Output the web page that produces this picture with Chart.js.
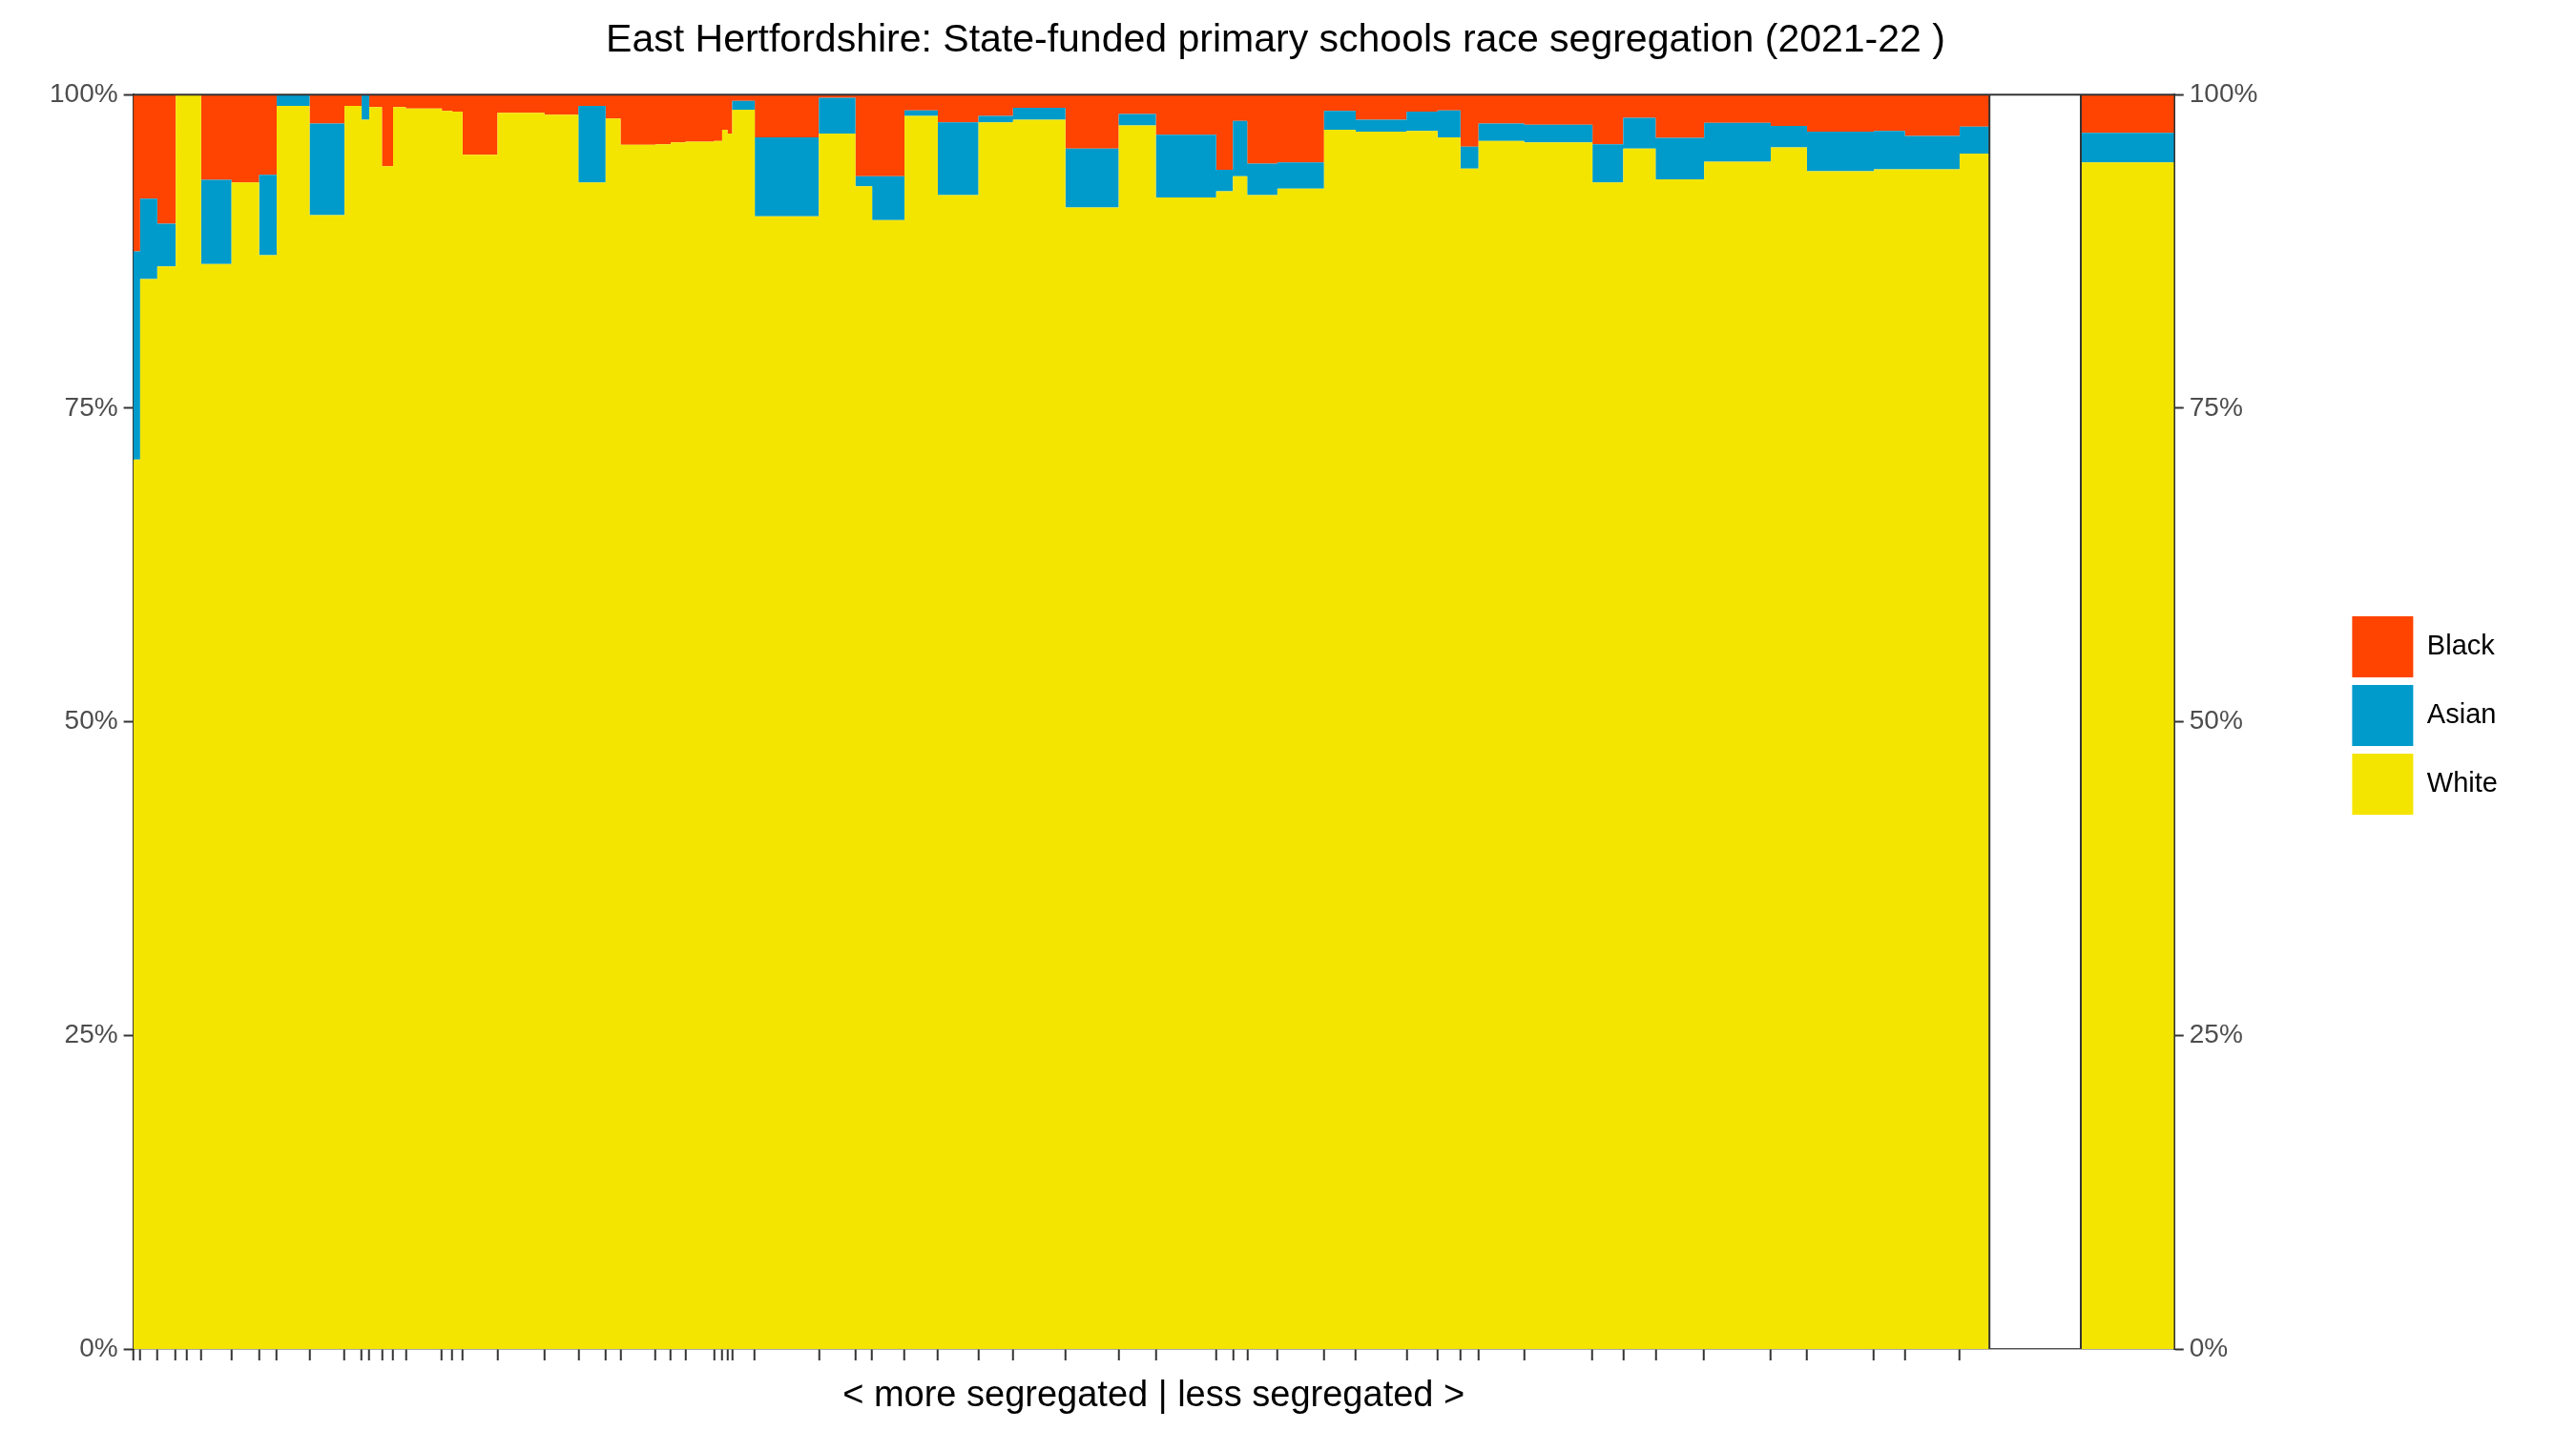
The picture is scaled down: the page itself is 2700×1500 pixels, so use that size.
<!DOCTYPE html>
<html>
<head>
<meta charset="utf-8">
<script src="https://cdn.jsdelivr.net/npm/chart.js@4"></script>
<style>
  html, body { margin: 0; padding: 0; background: #fff; }
  #wrap { width: 2700px; height: 1500px; }
</style>
</head>
<body>
<div id="wrap"><canvas id="myChart"></canvas></div>
<script>
// school widths (pupil share, ordered from more to less segregated)
let widths = [7.3, 18, 19.4, 11.6, 15, 32, 29, 18.4, 34.6, 36.7, 18, 8, 13.3, 11.7, 13.3, 38, 11, 10.7, 36.7, 49.3,
  35.7, 28.6, 15.7, 36.7, 16, 15.6, 30, 8.4, 5.6, 5, 23.7, 67.3, 38.4, 17.6, 34, 35, 42.7, 36.3, 55, 56,
  39, 63.4, 17.6, 15, 31.7, 49, 33.3, 53.4, 32.6, 24, 19, 48, 71.7, 32.3, 34, 51, 70, 38, 70.4, 32.6,
  57.4, 31.3];
let white = [70.9, 85.3, 86.3, 100, 100, 86.5, 93, 87.2, 99.1, 90.4, 99.1, 98, 99, 94.3, 99, 98.9, 98.7, 98.65, 95.2, 98.55,
  98.4, 93, 98.1, 96, 96.05, 96.2, 96.25, 96.3, 97.2, 96.9, 98.8, 90.3, 96.9, 92.7, 90, 98.3, 92, 97.8, 98, 91,
  97.55, 91.8, 92.3, 93.5, 92, 92.5, 97.2, 97.05, 97.1, 96.6, 94.1, 96.3, 96.2, 93, 95.7, 93.25, 94.65, 95.8, 93.9, 94.05,
  94.05, 95.3];
let asian = [16.6, 6.4, 3.4, 0, 0, 6.7, 0, 6.4, 0.9, 7.3, 0, 2, 0, 0, 0, 0, 0, 0, 0, 0,
  0, 6.1, 0, 0, 0, 0, 0, 0, 0, 0, 0.7, 6.3, 2.85, 0.8, 3.5, 0.45, 5.8, 0.5, 0.95, 4.7,
  0.9, 5, 1.7, 4.4, 2.5, 2.1, 1.5, 0.95, 1.55, 2.15, 1.75, 1.4, 1.4, 3.05, 2.45, 3.3, 3.1, 1.7, 3.15, 3.05,
  2.65, 2.15];
let black = [12.5, 8.3, 10.3, 0, 0, 6.8, 7, 6.4, 0, 2.3, 0.9, 0, 1, 5.7, 1, 1.1, 1.3, 1.35, 4.8, 1.45,
  1.6, 0.9, 1.9, 4, 3.95, 3.8, 3.75, 3.7, 2.8, 3.1, 0.5, 3.4, 0.25, 6.5, 6.5, 1.25, 2.2, 1.7, 1.05, 4.3,
  1.55, 3.2, 6, 2.1, 5.5, 5.4, 1.3, 2, 1.35, 1.25, 4.15, 2.3, 2.4, 3.95, 1.85, 3.45, 2.25, 2.5, 2.95, 2.9,
  3.3, 2.55];

// whole-district bar, drawn after a gap
let gapWidth = 96;
let totalWidth = 98;
let totalWhite = 94.6;
let totalAsian = 2.35;
let totalBlack = 3.05;

let yTicks = [0, 25, 50, 75, 100];
let colors = { White: '#F4E500', Asian: '#009BCB', Black: '#FF4300' };

// bar start positions
let starts = [];
let acc = 0;
for (let i = 0; i < widths.length; i++) {
  starts.push(acc);
  acc += widths[i];
}
let schoolsEnd = acc;
let totalStart = schoolsEnd + gapWidth;
let xMax = totalStart + totalWidth;

function steps(tops) {
  let pts = starts.map((s, i) => ({ x: s, y: tops[i] }));
  pts.push({ x: schoolsEnd, y: tops[tops.length - 1] });
  return pts;
}
let topWhite = white.slice();
let topAsian = white.map((w, i) => w + asian[i]);
let topBlack = white.map((w, i) => w + asian[i] + black[i]);

function ds(label, data, fill) {
  return {
    label: label, data: data, fill: fill, stepped: 'before',
    backgroundColor: colors[label], borderColor: colors[label],
    borderWidth: 0, pointRadius: 0, pointHoverRadius: 0
  };
}

let datasets = [
  ds('White', steps(topWhite), 'origin'),
  ds('Asian', steps(topAsian), '-1'),
  ds('Black', steps(topBlack), '-1'),
  ds('White', [{ x: totalStart, y: totalWhite }, { x: xMax, y: totalWhite }], 'origin'),
  ds('Asian', [{ x: totalStart, y: totalWhite + totalAsian }, { x: xMax, y: totalWhite + totalAsian }], '-1'),
  ds('Black', [{ x: totalStart, y: totalWhite + totalAsian + totalBlack }, { x: xMax, y: totalWhite + totalAsian + totalBlack }], '-1')
];

// panel edges round the gap
const panelLines = {
  id: 'panelLines',
  afterDraw(chart) {
    let c = chart.ctx, a = chart.chartArea, x = chart.scales.x;
    c.save();
    c.strokeStyle = '#333333';
    c.lineWidth = 2;
    c.beginPath();
    c.moveTo(a.left, a.top); c.lineTo(a.right, a.top);
    [schoolsEnd, totalStart].forEach(v => {
      let px = x.getPixelForValue(v);
      c.moveTo(px, a.top); c.lineTo(px, a.bottom);
    });
    c.stroke();
    c.restore();
  }
};

const font = 'Liberation Sans, Arial, sans-serif';
const yAxis = (pos, extra) => ({
  type: 'linear', position: pos, min: 0, max: 100,
  afterBuildTicks: s => { s.ticks = yTicks.map(v => ({ value: v })); },
  afterFit: s => { s.width += extra; },
  ticks: { callback: v => v + '%', color: '#4D4D4D', font: { family: font, size: 28 }, padding: 6 },
  grid: { drawOnChartArea: false, drawTicks: true, tickLength: 10, tickColor: '#333333', tickWidth: 2 },
  border: { display: true, color: '#333333', width: 2 }
});

let ctx = document.getElementById('myChart').getContext('2d');
let myChart = new Chart(ctx, {
  type: 'line',
  data: { datasets: datasets },
  plugins: [panelLines],
  options: {
    animation: false,
    responsive: true,
    maintainAspectRatio: false,
    layout: { padding: { left: 46, right: 72, top: 10, bottom: 10 } },
    scales: {
      x: {
        type: 'linear', min: 0, max: xMax, z: 1,
        afterBuildTicks: s => { s.ticks = starts.map(v => ({ value: v })); },
        ticks: { callback: () => '', autoSkip: false, maxRotation: 0, padding: 0 },
        grid: { color: 'rgba(255,255,255,0.3)', lineWidth: 1.5, drawTicks: true, tickLength: 12, tickColor: '#333333', tickWidth: 2 },
        border: { display: true, color: '#555555', width: 1.5 },
        title: { display: true, text: '< more segregated | less segregated >', color: '#000', font: { family: font, size: 38 }, padding: { top: 0, bottom: 4 } }
      },
      y: yAxis('left', 0),
      y2: yAxis('right', 85)
    },
    plugins: {
      title: { display: true, text: 'East Hertfordshire: State-funded primary schools race segregation (2021-22 )', color: '#000', font: { family: font, size: 41, weight: 'normal' }, padding: { top: 8, bottom: 32 } },
      legend: {
        position: 'right',
        labels: {
          boxWidth: 64, boxHeight: 64, padding: 8, color: '#000',
          font: { family: font, size: 29 },
          generateLabels: chart => ['Black', 'Asian', 'White'].map(n => ({
            text: n, fillStyle: colors[n], strokeStyle: colors[n], lineWidth: 0, hidden: false
          }))
        }
      },
      tooltip: { enabled: false }
    }
  }
});
</script>
</body>
</html>
